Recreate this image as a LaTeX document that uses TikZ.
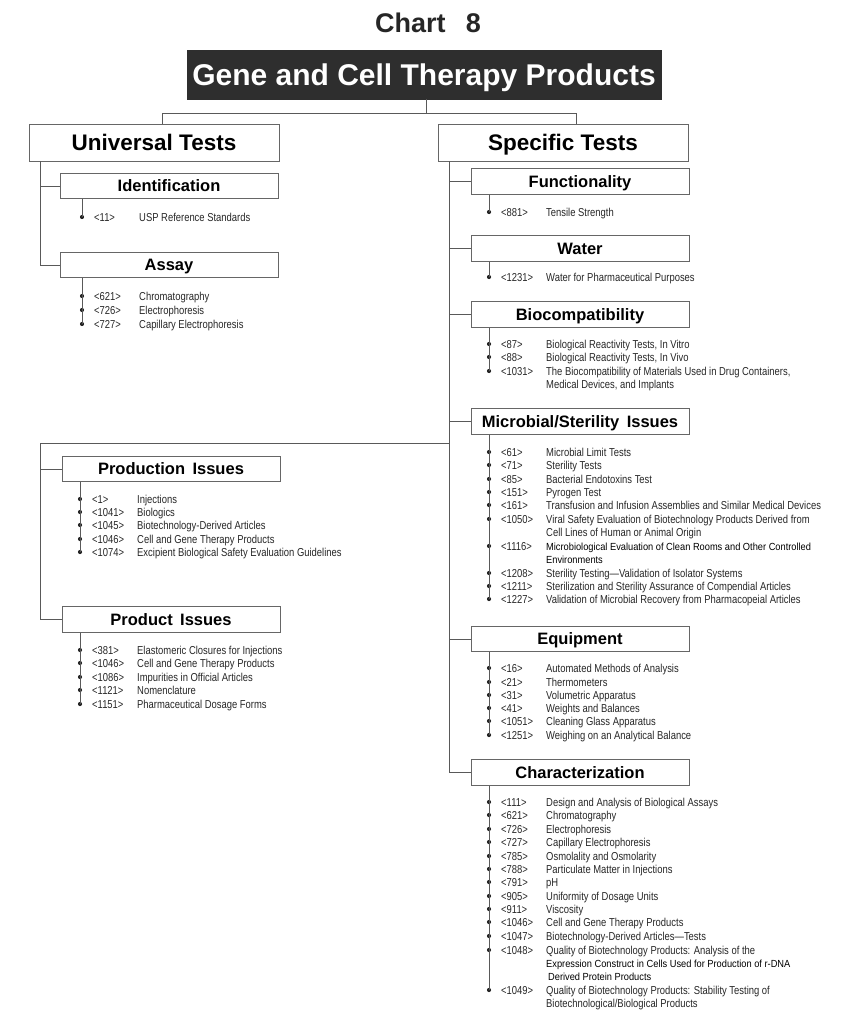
\documentclass[tikz,border=0pt]{standalone}
\usepackage{fontspec}
\setmainfont{Liberation Sans}
\newfontfamily\narrowf[FakeStretch=0.82]{Liberation Sans}
\newfontfamily\darkf[FakeStretch=0.9]{Liberation Sans}
\usetikzlibrary{calc}

\tikzset{
  ln/.style={draw=black!65, line width=0.7pt},
  hdr/.style={draw=black!60, line width=0.7pt, fill=white, inner sep=0pt,
    text height=11.9pt, text depth=0pt,
    font=\bfseries\fontsize{16.5}{18}\selectfont,
    minimum width=218pt, minimum height=25.5pt},
  bighdr/.style={hdr, font=\bfseries\fontsize{22.5}{24}\selectfont,
    text height=16.2pt, minimum width=250pt, minimum height=37pt},
  numtxt/.style={inner sep=0pt, anchor=base west, text=black!85,
    font=\narrowf\fontsize{11.5}{13.4}\selectfont},
  itx/.style={numtxt},
  darktxt/.style={inner sep=0pt, anchor=base west, text=black,
    font=\darkf\fontsize{10.3}{12}\selectfont},
  bul/.style={fill=black!85},
}

\newcommand\itm[5]{%
  \coordinate (#1) at (#2,#3);
  \fill[bul] (#1) circle (2.1pt);
  \node[numtxt] (#1n) at ($(#1)+(12,4)$) {#4};
  \node[itx] (#1t) at ($(#1)+(57,4)$) {#5};
}
\newcommand\itmd[5]{%
  \coordinate (#1) at (#2,#3);
  \fill[bul] (#1) circle (2.1pt);
  \node[numtxt] (#1n) at ($(#1)+(12,4)$) {#4};
  \node[darktxt] (#1t) at ($(#1)+(57,4)$) {#5};
}

\begin{document}
\begin{tikzpicture}[x=1pt,y=-1pt]
\useasboundingbox (0,0) rectangle (858,1030);

% title and banner
\node[anchor=base, inner sep=0pt, text=black!85, font=\bfseries\fontsize{27}{29}\selectfont] (title) at (428,33) {Chart\hspace{0.75em}8};
\node[fill=black!82, draw=black!82, text=white, inner sep=0pt,
  font=\bfseries\fontsize{30}{32}\selectfont, text height=21.6pt, text depth=0pt,
  minimum width=474pt, minimum height=49pt] (banner) at (424,74.5) {Gene and Cell Therapy Products};

% header boxes
\node[bighdr] (ut) at (154,142.5) {Universal Tests};
\node[bighdr] (st) at (563,142.5) {Specific Tests};
\node[hdr] (ident) at (169,186) {Identification};
\node[hdr] (assay) at (169,265) {Assay};
\node[hdr] (prod) at (171,469) {Production\hspace{0.45em}Issues};
\node[hdr] (prodt) at (171,619.5) {Product\hspace{0.45em}Issues};
\node[hdr] (func) at (580,181.5) {Functionality};
\node[hdr] (water) at (580,248.5) {Water};
\node[hdr] (bio) at (580,314.5) {Biocompatibility};
\node[hdr] (micro) at (580,421.5) {Microbial/Sterility\hspace{0.45em}Issues};
\node[hdr] (equip) at (580,639) {Equipment};
\node[hdr] (char) at (580,772.5) {Characterization};

% tree connectors
\coordinate (tj) at (426,113);
\coordinate (tl) at (162,113);
\coordinate (tr) at (576,113);
\draw[ln] (banner.south -| tj) -- (tj);
\draw[ln] (tl |- ut.north) -- (tl) -- (tr) -- (tr |- st.north);

\coordinate (us) at (40,161);
\draw[ln] (us) |- (assay.west);
\draw[ln] (us |- ident.west) -- (ident.west);

\coordinate (ss) at (449,161);
\draw[ln] (ss) |- (char.west);
\foreach \b in {func,water,bio,micro,equip}
  \draw[ln] (ss |- \b.west) -- (\b.west);

\coordinate (lj) at (449,443);
\coordinate (ls) at (40,443);
\draw[ln] (lj) -- (ls) |- (prodt.west);
\draw[ln] (ls |- prod.west) -- (prod.west);

% Identification
\itm{id1}{82}{217}{<11>}{USP Reference Standards}
\draw[ln] (ident.south -| id1) -- (id1);

% Assay
\itm{as1}{82}{296}{<621>}{Chromatography}
\itm{as2}{82}{310}{<726>}{Electrophoresis}
\itm{as3}{82}{324}{<727>}{Capillary Electrophoresis}
\draw[ln] (assay.south -| as3) -- (as3);

% Production Issues
\itm{pi1}{80}{499}{<1>}{Injections}
\itm{pi2}{80}{512}{<1041>}{Biologics}
\itm{pi3}{80}{525}{<1045>}{Biotechnology-Derived Articles}
\itm{pi4}{80}{539}{<1046>}{Cell and Gene Therapy Products}
\itm{pi5}{80}{552}{<1074>}{Excipient Biological Safety Evaluation Guidelines}
\draw[ln] (prod.south -| pi5) -- (pi5);

% Product Issues
\itm{pr1}{80}{650}{<381>}{Elastomeric Closures for Injections}
\itm{pr2}{80}{663}{<1046>}{Cell and Gene Therapy Products}
\itm{pr3}{80}{677}{<1086>}{Impurities in Official Articles}
\itm{pr4}{80}{690}{<1121>}{Nomenclature}
\itm{pr5}{80}{704}{<1151>}{Pharmaceutical Dosage Forms}
\draw[ln] (prodt.south -| pr5) -- (pr5);

% Functionality
\itm{fu1}{489}{212}{<881>}{Tensile Strength}
\draw[ln] (func.south -| fu1) -- (fu1);

% Water
\itm{wa1}{489}{277}{<1231>}{Water for Pharmaceutical Purposes}
\draw[ln] (water.south -| wa1) -- (wa1);

% Biocompatibility
\itm{bi1}{489}{344}{<87>}{Biological Reactivity Tests, In Vitro}
\itm{bi2}{489}{357}{<88>}{Biological Reactivity Tests, In Vivo}
\itm{bi3}{489}{371}{<1031>}{The Biocompatibility of Materials Used in Drug Containers,}
\node[itx] (bi3c) at ($(bi3)+(57,17.4)$) {Medical Devices, and Implants};
\draw[ln] (bio.south -| bi3) -- (bi3);

% Microbial/Sterility Issues
\itm{mi1}{489}{452}{<61>}{Microbial Limit Tests}
\itm{mi2}{489}{465}{<71>}{Sterility Tests}
\itm{mi3}{489}{479}{<85>}{Bacterial Endotoxins Test}
\itm{mi4}{489}{492}{<151>}{Pyrogen Test}
\itm{mi5}{489}{505}{<161>}{Transfusion and Infusion Assemblies and Similar Medical Devices}
\itm{mi6}{489}{519}{<1050>}{Viral Safety Evaluation of Biotechnology Products Derived from}
\node[itx] (mi6c) at ($(mi6)+(57,17.4)$) {Cell Lines of Human or Animal Origin};
\itmd{mi7}{489}{546}{<1116>}{Microbiological Evaluation of Clean Rooms and Other Controlled}
\node[darktxt] (mi7c) at ($(mi7)+(57,17.4)$) {Environments};
\itm{mi8}{489}{573}{<1208>}{Sterility Testing—Validation of Isolator Systems}
\itm{mi9}{489}{586}{<1211>}{Sterilization and Sterility Assurance of Compendial Articles}
\itm{mi10}{489}{599}{<1227>}{Validation of Microbial Recovery from Pharmacopeial Articles}
\draw[ln] (micro.south -| mi10) -- (mi10);

% Equipment
\itm{eq1}{489}{668}{<16>}{Automated Methods of Analysis}
\itm{eq2}{489}{682}{<21>}{Thermometers}
\itm{eq3}{489}{695}{<31>}{Volumetric Apparatus}
\itm{eq4}{489}{708}{<41>}{Weights and Balances}
\itm{eq5}{489}{721}{<1051>}{Cleaning Glass Apparatus}
\itm{eq6}{489}{735}{<1251>}{Weighing on an Analytical Balance}
\draw[ln] (equip.south -| eq6) -- (eq6);

% Characterization
\itm{ch1}{489}{802}{<111>}{Design and Analysis of Biological Assays}
\itm{ch2}{489}{815}{<621>}{Chromatography}
\itm{ch3}{489}{829}{<726>}{Electrophoresis}
\itm{ch4}{489}{842}{<727>}{Capillary Electrophoresis}
\itm{ch5}{489}{856}{<785>}{Osmolality and Osmolarity}
\itm{ch6}{489}{869}{<788>}{Particulate Matter in Injections}
\itm{ch7}{489}{882}{<791>}{pH}
\itm{ch8}{489}{896}{<905>}{Uniformity of Dosage Units}
\itm{ch9}{489}{909}{<911>}{Viscosity}
\itm{ch10}{489}{922}{<1046>}{Cell and Gene Therapy Products}
\itm{ch11}{489}{936}{<1047>}{Biotechnology-Derived Articles—Tests}
\itm{ch12}{489}{950}{<1048>}{Quality of Biotechnology Products: Analysis of the}
\node[darktxt] (ch12c) at ($(ch12)+(57,17.4)$) {Expression Construct in Cells Used for Production of r-DNA};
\node[darktxt] (ch12d) at ($(ch12)+(59,30.8)$) {Derived Protein Products};
\itm{ch13}{489}{990}{<1049>}{Quality of Biotechnology Products: Stability Testing of}
\node[itx] (ch13c) at ($(ch13)+(57,17.4)$) {Biotechnological/Biological Products};
\draw[ln] (char.south -| ch13) -- (ch13);

\end{tikzpicture}
\end{document}
